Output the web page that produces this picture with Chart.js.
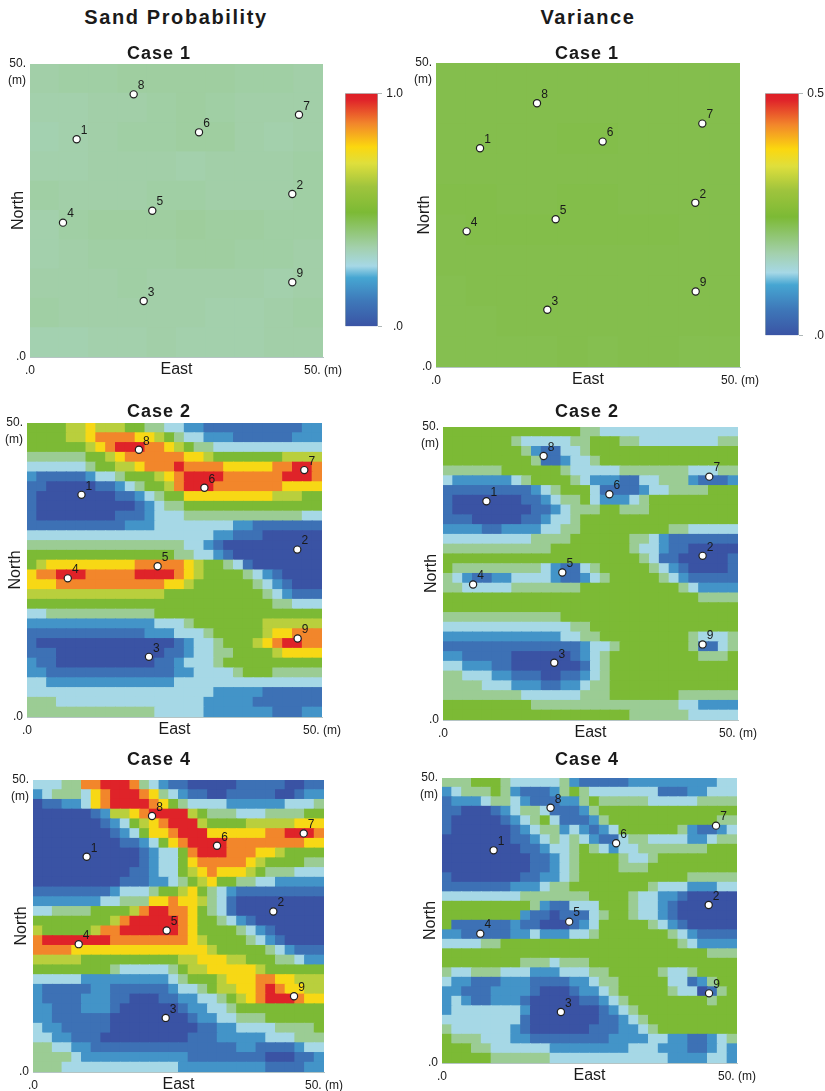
<!DOCTYPE html>
<html>
<head>
<meta charset="utf-8">
<title>Sand Probability and Variance</title>
<script src="https://cdn.jsdelivr.net/npm/chart.js@4/dist/chart.umd.min.js"></script>
<style>
  body { margin: 0; background: #fff; }
  #page { position: relative; width: 825px; height: 1091px; overflow: hidden; font-family: "Liberation Sans", Arial, sans-serif; color: #1a1a1a; }
  #page canvas { position: absolute; }
  .heading, .caseTitle { position: absolute; width: 240px; margin-left: -120px; text-align: center; font-weight: bold; line-height: 24px; margin-top: -12px; }
  .heading { font-size: 20px; letter-spacing: 1.6px; }
  .caseTitle { font-size: 18px; letter-spacing: 1px; }
</style>
</head>
<body>
<div id="page"></div>
<script>
// ========================== DATA =============================

const wellNames = ["1", "2", "3", "4", "5", "6", "7", "8", "9"];

// well positions (m), read per panel
const wellsSandCase1 = [[7.96, 37.15], [44.76, 27.82], [19.4, 9.56], [5.63, 22.93], [20.87, 24.97], [28.84, 38.34], [45.9, 41.35], [17.69, 44.82], [44.76, 12.75]];
const wellsVarCase1 = [[7.24, 35.98], [42.65, 27.0], [18.31, 9.42], [5.04, 22.31], [19.68, 24.29], [27.41, 37.07], [43.8, 40.03], [16.61, 43.37], [42.71, 12.43]];
const wellsSandCase2 = [[9.23, 37.78], [45.81, 28.47], [20.67, 10.23], [6.91, 23.58], [22.14, 25.63], [30.07, 38.98], [47.0, 41.99], [18.97, 45.45], [45.87, 13.35]];
const wellsVarCase2 = [[7.36, 37.33], [44.0, 28.01], [18.86, 9.77], [5.1, 23.12], [20.22, 25.17], [28.2, 38.52], [45.13, 41.53], [17.05, 45.06], [44.0, 12.9]];
const wellsSandCase4 = [[9.22, 36.86], [41.29, 27.49], [22.8, 9.26], [7.85, 21.89], [22.97, 24.23], [31.62, 38.74], [46.51, 40.86], [20.45, 43.83], [44.85, 12.97]];
const wellsVarCase4 = [[8.75, 37.31], [45.2, 27.72], [20.15, 8.95], [6.49, 22.69], [21.56, 24.8], [29.51, 38.54], [46.44, 41.64], [18.4, 44.77], [45.26, 12.22]];

// value of each class digit used in the grids below, as a share of the colour bar
const classValues = [0.0, 0.09, 0.17, 0.26, 0.37, 0.49, 0.64, 0.76, 0.87, 0.98];

// Case 1 is almost flat, so these rows hold plain values
const sandCase1 = [
  [0.345, 0.35, 0.35, 0.355, 0.355, 0.355, 0.355, 0.35, 0.35, 0.345],
  [0.34, 0.34, 0.345, 0.345, 0.35, 0.355, 0.35, 0.345, 0.345, 0.345],
  [0.335, 0.34, 0.345, 0.35, 0.35, 0.355, 0.355, 0.345, 0.34, 0.345],
  [0.34, 0.34, 0.345, 0.345, 0.345, 0.34, 0.345, 0.345, 0.345, 0.35],
  [0.35, 0.345, 0.345, 0.345, 0.35, 0.35, 0.345, 0.345, 0.345, 0.35],
  [0.34, 0.35, 0.355, 0.355, 0.355, 0.36, 0.355, 0.355, 0.35, 0.35],
  [0.34, 0.345, 0.35, 0.35, 0.35, 0.355, 0.355, 0.35, 0.35, 0.345],
  [0.345, 0.345, 0.345, 0.35, 0.345, 0.345, 0.345, 0.345, 0.34, 0.345],
  [0.35, 0.345, 0.345, 0.345, 0.345, 0.345, 0.34, 0.34, 0.345, 0.35],
  [0.335, 0.335, 0.34, 0.34, 0.345, 0.34, 0.34, 0.34, 0.345, 0.345],
];
const varCase1 = [
  [0.23, 0.23, 0.23, 0.23, 0.23, 0.23, 0.23, 0.23, 0.23, 0.23],
  [0.23, 0.23, 0.23, 0.23, 0.23, 0.23, 0.23, 0.23, 0.23, 0.23],
  [0.23, 0.23, 0.23, 0.23, 0.232, 0.232, 0.23, 0.23, 0.23, 0.23],
  [0.23, 0.23, 0.23, 0.23, 0.23, 0.23, 0.23, 0.23, 0.23, 0.23],
  [0.232, 0.232, 0.23, 0.23, 0.232, 0.232, 0.23, 0.23, 0.23, 0.23],
  [0.23, 0.232, 0.232, 0.232, 0.232, 0.232, 0.232, 0.232, 0.23, 0.23],
  [0.23, 0.23, 0.23, 0.23, 0.23, 0.23, 0.23, 0.23, 0.23, 0.23],
  [0.228, 0.23, 0.23, 0.23, 0.23, 0.23, 0.23, 0.23, 0.23, 0.23],
  [0.228, 0.228, 0.23, 0.23, 0.23, 0.23, 0.23, 0.23, 0.23, 0.23],
  [0.228, 0.228, 0.228, 0.228, 0.23, 0.228, 0.23, 0.23, 0.228, 0.228],
];

// top row first, one digit per cell, digit = index into classValues
const sandCase2 = [
  "55556 67666 55443 32211 11111 11122",
  "55556 67888 87765 43322 21111 11222",
  "55555 56789 99887 65443 33333 33333",
  "44444 45567 88888 87765 55555 56666",
  "33333 34556 67888 98888 77777 88998",
  "21111 12334 55567 89999 88888 89998",
  "11000 00112 34556 89998 88888 87777",
  "10000 00001 12345 57777 77777 66655",
  "10000 00000 01234 45555 55555 55555",
  "10000 00001 11233 34444 44444 44433",
  "11111 11111 22233 33333 32211 11111",
  "33333 33333 33333 33332 21110 00000",
  "44444 44444 44444 43321 00000 00000",
  "55555 55555 55555 44332 10000 00000",
  "56777 77777 78888 87655 43100 00000",
  "78899 98888 89999 87655 55432 10000",
  "77788 88888 88887 76555 55543 21000",
  "66666 66666 66665 55555 55554 32111",
  "55555 55555 55555 55555 55555 44333",
  "33444 44444 44455 55555 55555 55555",
  "22222 22222 22233 34555 55556 66666",
  "11111 11111 11222 33345 55556 77888",
  "10000 00000 00000 12334 55567 89988",
  "11100 00000 00001 12334 45555 67777",
  "21100 00000 00011 23334 55555 55555",
  "22111 11111 11111 22333 34555 44444",
  "33222 22222 22222 33333 33333 33333",
  "33333 33333 33333 33332 22221 11111",
  "44433 33333 33333 33322 22211 11111",
  "44444 44444 44433 33322 22222 11122",
];
const varCase2 = [
  "55555 55555 55554 43333 33333 33333",
  "55555 55433 33344 55544 33333 33344",
  "55555 55542 11334 55555 55555 55555",
  "55555 55554 11233 45555 55555 55555",
  "44444 45555 55433 33344 44444 33344",
  "32222 22345 55543 22211 33444 21112",
  "11111 11112 34555 31111 23344 44555",
  "10000 00011 23445 32223 45555 55555",
  "10000 00001 12344 45544 45555 55555",
  "11100 00011 23345 55555 55555 55555",
  "22221 12222 33445 55555 55544 33333",
  "33333 33334 44455 55554 43211 11111",
  "44444 44444 45555 55554 33211 00000",
  "55555 55555 55555 55555 43110 00001",
  "54444 44444 32113 45555 54321 00001",
  "43211 22333 32112 34555 55432 11111",
  "44333 33444 44445 55555 55554 32222",
  "55555 55555 55555 55555 55555 54444",
  "55555 55555 55555 55555 55555 55555",
  "44444 44444 44555 55555 55555 55555",
  "33333 33333 33344 55555 55555 55555",
  "22222 22222 22334 45555 55555 43334",
  "11111 11111 11112 33455 55555 41134",
  "22111 11000 00012 34555 55555 54445",
  "33222 11000 00001 34555 55555 55555",
  "44333 22111 00112 34555 55555 55555",
  "44443 33222 11223 44555 55555 55555",
  "44444 44433 33334 44555 55554 44444",
  "55555 55554 44444 44444 44443 32222",
  "55555 55555 55555 55554 44444 33333",
];
const sandCase4 = [
  "33344 88999 84321 10000 01111 10011",
  "23444 37899 98743 21100 11111 00122",
  "01122 37899 99875 43333 22222 23334",
  "00000 01266 78999 96544 43334 44455",
  "00000 00123 56789 99655 55666 66777",
  "00000 00012 35778 99977 77778 89998",
  "00000 00001 12357 89999 88888 88877",
  "00000 00000 01233 58999 88877 65555",
  "00000 00000 01233 57888 88765 55544",
  "00000 00000 11233 56787 77654 44333",
  "00000 00001 11223 45675 54433 22222",
  "11111 11123 33455 67543 21111 11111",
  "22222 22334 44778 77643 10000 00000",
  "33444 45555 68998 87543 10000 00000",
  "55555 55568 99999 87554 32100 00000",
  "65555 56889 99999 87555 54321 00000",
  "89999 99988 88888 87655 55432 10000",
  "88887 77777 77777 77765 55554 32111",
  "66666 55555 55555 66777 66555 44322",
  "55555 55543 33334 56677 77765 55555",
  "33333 22222 22223 45556 77788 77666",
  "21111 12211 11112 33456 67789 87766",
  "21111 22211 00011 22334 56789 99877",
  "22111 22210 00000 12233 45555 55555",
  "22111 11100 00000 01223 34445 55555",
  "32211 11100 00000 00112 23333 44445",
  "33221 11000 00000 01112 22223 33444",
  "44332 21111 11111 11111 12211 11233",
  "44443 22222 22222 21111 11110 00112",
  "44433 33333 33333 22222 22221 11122",
];
const varCase4 = [
  "44455 54333 33421 11112 22222 22233",
  "23444 54211 12454 33333 33111 22333",
  "12223 44321 11224 54444 43333 34444",
  "11000 12344 31112 45555 55555 55555",
  "10000 01234 53111 24555 55555 55544",
  "10000 00123 44232 12355 55554 21123",
  "00000 00112 34343 21134 43333 22344",
  "00000 00011 23345 43233 44444 44555",
  "00000 00001 12345 55543 34555 55555",
  "00000 00001 12345 55544 45555 55555",
  "10000 00011 22345 55555 55555 44444",
  "11111 11222 34455 55555 54333 22233",
  "33333 33344 44444 55554 33221 00000",
  "55555 55554 21133 35554 33210 00000",
  "55555 55521 10111 34554 33210 00000",
  "51111 11211 00012 35555 54321 00000",
  "22111 11223 22233 45555 55543 21111",
  "33334 45555 55555 55555 55554 32222",
  "55555 55555 55555 55555 55555 55444",
  "55555 55544 43444 55555 55555 55555",
  "43344 43332 22333 44555 55433 45555",
  "32211 12221 11122 34455 55533 12455",
  "22111 22221 00012 23455 55543 30145",
  "23211 22210 00001 12345 55555 55455",
  "23333 33320 00000 01234 55555 55555",
  "33333 33310 00000 01123 45555 55555",
  "43333 33210 00000 11122 34555 55555",
  "54443 33221 11111 11222 23322 11234",
  "55544 33333 32222 22223 33222 11232",
  "55555 44444 43333 33333 33322 22332",
];

const sandBarRange = [0, 1.0];
const varBarRange = [0, 0.5];
const axisRange = [0, 50];

// ========================== COLOURS =============================

const colorStops = [
  [0.0, [58, 83, 164]], [0.11, [62, 120, 185]], [0.21, [70, 166, 210]], [0.26, [166, 216, 230]],
  [0.34, [163, 208, 172]], [0.49, [124, 186, 53]], [0.6, [159, 196, 61]], [0.7, [223, 223, 60]],
  [0.77, [251, 215, 15]], [0.87, [242, 134, 43]], [0.97, [224, 37, 42]], [1.0, [222, 31, 38]],
];

function colorAt(share) {
  let i = 1;
  while (i < colorStops.length - 1 && share > colorStops[i][0]) i++;
  const [p0, c0] = colorStops[i - 1];
  const [p1, c1] = colorStops[i];
  const t = Math.min(1, Math.max(0, (share - p0) / (p1 - p0)));
  const mix = c0.map((c, k) => Math.round(c + (c1[k] - c) * t));
  return `rgb(${mix[0]},${mix[1]},${mix[2]})`;
}

// ========================== HELPERS =============================

// turn digit rows into number rows
function decodeRows(rows, top) {
  return rows.map((row) =>
    row.replace(/ /g, "").split("").map((d) => classValues[Number(d)] * top)
  );
}

// one point per grid cell, at the cell centre in metres
function cellPoints(grid) {
  const cols = grid[0].length;
  const rows = grid.length;
  const points = [];
  grid.forEach((row, r) => {
    row.forEach((v, c) => {
      points.push({
        x: ((c + 0.5) * axisRange[1]) / cols,
        y: axisRange[1] - ((r + 0.5) * axisRange[1]) / rows,
        v: v,
      });
    });
  });
  return points;
}

// numbers next to the well markers
const wellLabelPlugin = {
  id: "wellLabels",
  afterDatasetsDraw(chart) {
    const { ctx } = chart;
    const meta = chart.getDatasetMeta(1);
    ctx.save();
    ctx.font = '12px "Liberation Sans"';
    ctx.fillStyle = "#1a1a1a";
    ctx.textAlign = "center";
    ctx.textBaseline = "middle";
    meta.data.forEach((pt, i) => {
      ctx.fillText(wellNames[i], pt.x + 7.5, pt.y - 8.5);
    });
    ctx.restore();
  },
};

function addCanvas(left, top, width, height) {
  const canvas = document.createElement("canvas");
  canvas.width = width;
  canvas.height = height;
  canvas.style.left = left + "px";
  canvas.style.top = top + "px";
  document.getElementById("page").appendChild(canvas);
  return canvas;
}

function addText(className, text, x, y) {
  const div = document.createElement("div");
  div.className = className;
  div.textContent = text;
  div.style.left = x + "px";
  div.style.top = y + "px";
  document.getElementById("page").appendChild(div);
}

// ========================== MAP PANEL =============================

const marginLeft = 30;
const marginTop = 30;
const marginRight = 45;
const marginBottom = 25;
const frameColor = "#b5c4c4";

function drawMap(box, grid, wells, top) {
  const plotW = box[2] - box[0];
  const plotH = box[3] - box[1];
  const canvas = addCanvas(box[0] - marginLeft, box[1] - marginTop, plotW + marginLeft + marginRight, plotH + marginTop + marginBottom);
  const cellPx = Math.max(plotW / grid[0].length, plotH / grid.length) + 1;

  new Chart(canvas.getContext("2d"), {
    type: "scatter",
    data: {
      datasets: [
        {
          order: 2,
          data: cellPoints(grid),
          pointStyle: "rect",
          pointRadius: cellPx / Math.SQRT2,
          pointBorderWidth: 0,
          pointBackgroundColor: (c) => colorAt(c.raw.v / top),
          clip: 0,
        },
        {
          order: 1,
          data: wells.map((w) => ({ x: w[0], y: w[1] })),
          pointRadius: 3.6,
          pointBorderWidth: 1.2,
          pointBackgroundColor: "#fff",
          pointBorderColor: "#1f1f1f",
          clip: false,
        },
      ],
    },
    options: {
      responsive: false,
      animation: false,
      events: [],
      layout: { padding: { top: marginTop, right: marginRight, left: 0, bottom: 0 } },
      plugins: { legend: { display: false }, tooltip: { enabled: false } },
      scales: {
        x: {
          type: "linear",
          z: 1,
          min: axisRange[0],
          max: axisRange[1],
          grid: { display: false, drawTicks: false, tickLength: 0 },
          border: { display: true, color: frameColor },
          afterBuildTicks: (scale) => { scale.ticks = axisRange.map((value) => ({ value })); },
          afterFit: (scale) => { scale.height = marginBottom; },
          ticks: {
            autoSkip: false,
            maxRotation: 0,
            padding: 6,
            color: "#1a1a1a",
            font: { family: "Liberation Sans", size: 12 },
            callback: (v) => (v === axisRange[0] ? ".0" : "50. (m)"),
          },
          title: {
            display: true,
            text: "East",
            color: "#1a1a1a",
            font: { family: "Liberation Sans", size: 16 },
            padding: { top: 0, bottom: 3 },
          },
        },
        y: {
          type: "linear",
          z: 1,
          min: axisRange[0],
          max: axisRange[1],
          grid: { display: false, drawTicks: false, tickLength: 0 },
          border: { display: true, color: frameColor },
          afterBuildTicks: (scale) => { scale.ticks = axisRange.map((value) => ({ value })); },
          afterFit: (scale) => { scale.width = marginLeft; },
          ticks: {
            autoSkip: false,
            padding: 4,
            color: "#1a1a1a",
            font: { family: "Liberation Sans", size: 12, lineHeight: 1.35 },
            callback: (v) => (v === axisRange[0] ? ".0" : ["", "50.", "(m)"]),
          },
          title: {
            display: true,
            text: "North",
            color: "#1a1a1a",
            font: { family: "Liberation Sans", size: 16 },
            padding: { top: 9, bottom: 0 },
          },
        },
      },
    },
    plugins: [wellLabelPlugin],
  });
}

// ========================== COLOUR BAR =============================

function drawColorBar(box, range, labels) {
  const barW = box[2] - box[0];
  const barH = box[3] - box[1];
  const canvas = addCanvas(box[0], box[1] - 10, barW + 25, barH + 20);

  new Chart(canvas.getContext("2d"), {
    type: "bar",
    data: {
      labels: [""],
      datasets: [
        {
          data: [range[1]],
          barPercentage: 1,
          categoryPercentage: 1,
          borderWidth: 1,
          borderColor: "#9fb0b0",
          backgroundColor: (c) => {
            const { chart } = c;
            if (!chart.chartArea) return "#7cba35";
            const yScale = chart.scales.y;
            const gradient = chart.ctx.createLinearGradient(0, yScale.getPixelForValue(range[0]), 0, yScale.getPixelForValue(range[1]));
            colorStops.forEach((s) => gradient.addColorStop(s[0], colorAt(s[0])));
            return gradient;
          },
        },
      ],
    },
    options: {
      responsive: false,
      animation: false,
      events: [],
      layout: { padding: { top: 10, bottom: 10, left: 0, right: 0 } },
      plugins: { legend: { display: false }, tooltip: { enabled: false } },
      scales: {
        x: { display: false },
        y: {
          position: "right",
          min: range[0],
          max: range[1],
          border: { display: false },
          grid: { drawOnChartArea: false, drawTicks: true, tickLength: 4, color: "#b0b8b8" },
          afterBuildTicks: (scale) => { scale.ticks = range.map((value) => ({ value })); },
          afterFit: (scale) => { scale.width = 25; },
          ticks: {
            autoSkip: false,
            crossAlign: "far",
            color: "#1a1a1a",
            font: { family: "Liberation Sans", size: 12 },
            callback: (v) => (v === range[0] ? labels[0] : labels[1]),
          },
        },
      },
    },
  });
}

// ========================== PAGE =============================

drawMap([30, 64, 323, 357], sandCase1, wellsSandCase1, sandBarRange[1]);
drawMap([436, 63, 740, 367], varCase1, wellsVarCase1, varBarRange[1]);
drawMap([27, 423, 322, 717], decodeRows(sandCase2, sandBarRange[1]), wellsSandCase2, sandBarRange[1]);
drawMap([443, 427, 738, 720], decodeRows(varCase2, varBarRange[1]), wellsVarCase2, varBarRange[1]);
drawMap([33, 780, 324, 1072], decodeRows(sandCase4, sandBarRange[1]), wellsSandCase4, sandBarRange[1]);
drawMap([442, 778, 737, 1063], decodeRows(varCase4, varBarRange[1]), wellsVarCase4, varBarRange[1]);

drawColorBar([345, 93, 378, 327], sandBarRange, [".0", "1.0"]);
drawColorBar([765, 93, 799, 336], varBarRange, [".0", "0.5"]);

addText("heading", "Sand Probability", 176, 17);
addText("heading", "Variance", 588, 17);
addText("caseTitle", "Case 1", 159, 53);
addText("caseTitle", "Case 1", 587, 53);
addText("caseTitle", "Case 2", 159, 411);
addText("caseTitle", "Case 2", 587, 411);
addText("caseTitle", "Case 4", 159, 759);
addText("caseTitle", "Case 4", 587, 759);
</script>
</body>
</html>
